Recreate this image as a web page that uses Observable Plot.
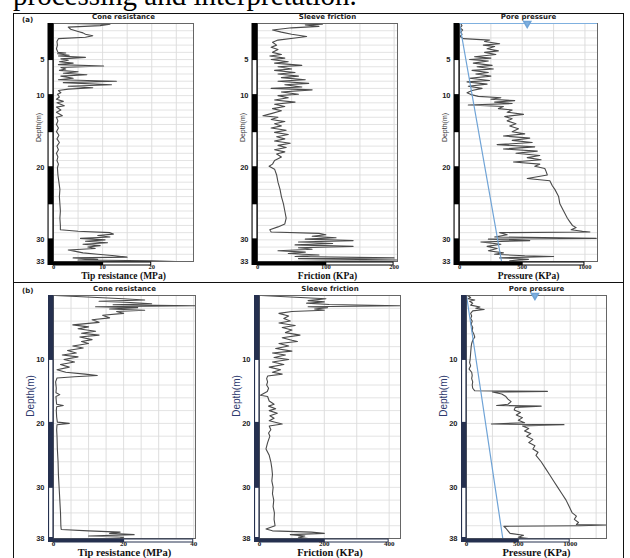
<!DOCTYPE html>
<html><head><meta charset="utf-8">
<script src="https://cdn.jsdelivr.net/npm/d3@7"></script>
<script src="https://cdn.jsdelivr.net/npm/@observablehq/plot@0.6"></script>
<style>
html,body{margin:0;padding:0;background:#fff}
body{width:630px;height:558px;overflow:hidden;position:relative}
#caption{position:absolute;left:13px;top:-19px;font:29px/29px "Liberation Serif",serif;color:#000;white-space:nowrap}
.box{position:absolute;border:1.5px solid #111;box-sizing:border-box}
.tag{position:absolute;font:bold 7px "DejaVu Sans",sans-serif;color:#222}
.panel{position:absolute}
g[aria-label="ptitle"] text{letter-spacing:1.1px}
g[aria-label="xlabelA"] text{letter-spacing:0.6px}
g[aria-label="xlabelB"] text{letter-spacing:1px}
</style></head><body>
<div id="caption">processing and interpretation.</div>
<div class="box" style="left:13px;top:13px;width:611px;height:270px"></div>
<div class="box" style="left:13px;top:282px;width:611px;height:290px"></div>
<div class="tag" style="left:22px;top:16px">(a)</div>
<div class="tag" style="left:22px;top:287px">(b)</div>
<div id="charts"></div>
<script>
// ---------- labels / ticks ----------
const titles = ["Cone resistance", "Sleeve friction", "Pore pressure"];
const xLabels = ["Tip resistance (MPa)", "Friction (KPa)", "Pressure (KPa)"];
const depthLabel = "Depth(m)";
const depthMaxA = 33, depthMaxB = 38;
const yTicksA = [5, 10, 20, 30, 33];
const yTicksB = [10, 20, 30, 38];
const xTicksA = [[0, 10, 20], [0, 100, 200], [0, 500, 1000]];
const xTicksB = [[0, 20, 40], [0, 200, 400], [0, 500, 1000]];
const xDomainA = [[0, 28.5], [0, 205], [0, 1100]];
const xDomainB = [[0, 40.5], [0, 435], [0, 1350]];
// depth strip blocks [top, bottom, dark?]
const stripA = [[0,5,1],[5,10,0],[10,15,1],[15,20,0],[20,25,1],[25,30,0],[30,33,1]];
const stripB = [[0,10,1],[10,20,0],[20,30,1],[30,38,0]];
// bottom scale bar blocks [from, to, dark?]
const barA = [[[0,10,1],[10,20,0]], [[0,100,1],[100,200,0]], [[0,500,1],[500,1000,0]]];
const barB = [[[0,20,1],[20,40,0]], [[0,200,1],[200,400,0]], [[0,500,1],[500,1000,0]]];
// hydrostatic line [depth, kPa] and water-table marker
const hydroA = [[0,0],[33,335]];
const hydroB = [[0,0],[38,350]];
const waterMarkA = [[0,540]];
const waterMarkB = [[0,660]];

// ---------- series [depth (m), value] ----------
const coneA = [[0,2.5],[0.1,11.5],[0.3,9.5],[0.5,3],[0.8,3.5],[1.1,5],[1.3,6],[1.5,6.5],[1.7,8],[1.9,6.5],[2.1,1],[2.5,0.7],[3,0.8],[3.5,0.6],[4,0.9],[4.1,2.5],[4.2,0.8],[4.4,3.2],[4.5,1],[4.7,6.5],[4.9,1.5],[5.1,3],[5.3,1.2],[5.5,4],[5.7,1],[5.9,10.2],[6.1,1.5],[6.3,2.5],[6.5,1.2],[6.7,5],[6.9,2],[7.1,6.8],[7.3,1.5],[7.6,4],[7.8,1],[8,12.8],[8.2,2],[8.5,11.8],[8.7,3],[8.9,8],[9.1,3],[9.3,1],[9.6,1.5],[9.8,0.8],[10.2,1.2],[10.5,0.6],[10.8,2],[11,0.7],[11.4,2.2],[11.6,0.6],[12,1.5],[12.3,0.6],[12.8,1.8],[13,0.6],[13.5,0.9],[14,0.6],[14.5,1],[15,0.6],[15.5,1.1],[16,0.7],[16.5,1.2],[17,0.7],[17.5,1],[18,0.6],[18.5,0.9],[19,0.7],[19.5,1],[20,0.8],[21,0.9],[22,1.1],[23,1.3],[24,1.2],[25,1.3],[26,1.4],[27,1.3],[28,1.4],[28.6,1.4],[28.8,5],[29,11.5],[29.2,12.2],[29.4,9],[29.6,11.5],[29.8,5.5],[30,10.5],[30.2,6.5],[30.4,11],[30.6,6],[30.8,9.5],[31,7],[31.2,8.5],[31.4,3],[31.6,4.5],[31.8,6],[32,9],[32.2,12.5],[32.4,15],[32.5,4],[32.7,9],[32.8,5],[32.9,20],[33,25]];
const frictionA = [[0,60],[0.1,95],[0.2,70],[0.4,90],[0.6,50],[0.9,22],[1.2,35],[1.5,50],[1.8,72],[2,55],[2.3,30],[2.6,22],[3,28],[3.3,20],[3.6,30],[4,22],[4.3,35],[4.5,18],[4.8,40],[5,20],[5.3,45],[5.5,25],[5.8,65],[6,30],[6.3,50],[6.5,25],[6.8,55],[7,30],[7.3,60],[7.5,35],[7.8,70],[8,30],[8.3,75],[8.5,40],[8.8,65],[9,20],[9.2,80],[9.5,35],[9.8,60],[10,30],[10.3,45],[10.6,25],[10.9,55],[11.2,25],[11.5,40],[11.8,22],[12.1,35],[12.5,20],[12.8,8],[13,30],[13.3,20],[13.6,40],[13.9,25],[14.2,35],[14.5,20],[14.8,42],[15.1,25],[15.4,45],[15.7,28],[16,40],[16.3,25],[16.6,48],[16.9,30],[17.2,42],[17.5,25],[17.8,40],[18.1,28],[18.5,35],[19,25],[19.5,22],[19.8,17],[20.2,25],[21,28],[22,30],[23,33],[24,35],[25,38],[26,40],[27,42],[27.8,40],[28.2,30],[28.6,18],[28.9,20],[29.1,90],[29.3,100],[29.5,80],[29.7,115],[29.9,70],[30.1,140],[30.3,60],[30.5,110],[30.7,55],[30.9,140],[31.1,60],[31.3,80],[31.5,30],[31.7,70],[31.9,45],[32.1,90],[32.3,55],[32.5,200],[32.6,60],[32.8,205],[33,50]];
const poreA = [[0,10],[0.3,20],[0.6,5],[0.9,25],[1.2,10],[1.5,20],[1.8,5],[2.1,30],[2.3,240],[2.5,200],[2.8,320],[3,190],[3.2,280],[3.5,220],[3.8,310],[4,200],[4.3,290],[4.6,120],[4.8,250],[5,80],[5.2,230],[5.5,110],[5.8,260],[6,140],[6.3,270],[6.5,100],[6.8,230],[7,130],[7.3,250],[7.6,80],[7.9,240],[8.1,60],[8.4,220],[8.7,70],[9,180],[9.3,100],[9.6,60],[9.9,100],[10.1,150],[10.3,330],[10.5,250],[10.7,440],[10.9,280],[11.1,420],[11.3,70],[11.5,350],[11.8,310],[12,420],[12.3,380],[12.6,510],[12.9,360],[13.2,420],[13.5,380],[13.9,450],[14.2,400],[14.6,470],[15,420],[15.3,520],[15.6,350],[15.9,560],[16.2,420],[16.5,580],[16.8,300],[17.1,600],[17.4,350],[17.7,620],[18,450],[18.3,640],[18.6,540],[18.9,650],[19.2,430],[19.5,640],[19.8,600],[20.1,680],[20.5,690],[21,700],[21.5,540],[21.8,720],[22.5,740],[23,760],[24,790],[25,800],[26,830],[27,860],[27.5,880],[28,900],[28.3,930],[28.6,890],[28.8,980],[28.9,1040],[29,320],[29.3,380],[29.6,280],[29.8,1090],[29.9,230],[30.1,560],[30.3,170],[30.6,330],[30.9,220],[31.2,300],[31.5,230],[31.8,350],[32,280],[32.2,520],[32.3,750],[32.5,320],[32.7,550],[32.9,400],[33,450]];
const coneB = [[0,0.5],[0.2,8],[0.5,20],[0.7,26],[0.9,13],[1.1,22],[1.3,28],[1.45,17],[1.6,40.5],[1.75,12],[1.9,24],[2.1,16],[2.3,26],[2.5,18],[2.8,20],[3.1,14],[3.5,16],[3.8,11],[4.2,13],[4.6,5.5],[4.9,10],[5.2,7],[5.6,12],[5.9,8],[6.2,13],[6.5,7.5],[6.9,11],[7.2,8],[7.5,10],[7.9,5.5],[8.2,8.5],[8.6,4],[9,6.5],[9.3,2.5],[9.6,7],[10,3],[10.4,6],[10.8,2],[11.2,4.5],[11.6,1],[12,3.5],[12.3,9],[12.5,12.5],[12.7,6],[12.9,1],[13.5,0.6],[14.5,0.8],[15.2,0.7],[15.5,1.8],[15.8,0.7],[16.5,0.8],[17,0.9],[17.2,2.8],[17.4,0.9],[18,0.8],[19,0.9],[19.8,1.1],[20,4.5],[20.2,1],[21,0.9],[22,1],[24,1.1],[26,1.3],[28,1.4],[30,1.6],[32,1.8],[34,2],[36,2.1],[36.6,2.2],[36.8,10],[37,19],[37.2,16],[37.4,23],[37.6,10],[37.8,20],[38,19]];
const frictionB = [[0,5],[0.2,80],[0.5,205],[0.8,150],[1,200],[1.2,145],[1.4,215],[1.6,433],[1.75,150],[1.9,210],[2.1,170],[2.3,200],[2.5,100],[2.8,60],[3.2,90],[3.6,75],[4,95],[4.3,60],[4.7,110],[5,70],[5.4,100],[5.8,80],[6.2,125],[6.6,70],[7,100],[7.2,117],[7.5,60],[7.9,90],[8.3,50],[8.7,100],[9,40],[9.3,80],[9.7,45],[10,90],[10.4,40],[10.8,75],[11.2,30],[11.6,65],[12,40],[12.3,70],[12.6,25],[13,22],[13.5,25],[14,22],[14.5,28],[15,24],[15.6,3],[15.8,25],[16.5,30],[17,45],[17.3,28],[17.7,50],[18,30],[18.4,55],[18.8,32],[19.2,45],[19.6,30],[20.1,70],[20.4,30],[21,35],[21.5,28],[22,32],[23,25],[24,20],[25,30],[26,35],[27,38],[28,40],[29,38],[30,42],[31,40],[32,44],[33,42],[34,46],[35,45],[36,48],[36.5,20],[36.8,40],[37,160],[37.2,200],[37.4,95],[37.6,140],[37.8,120],[38,150]];
const poreB = [[0,10],[0.3,40],[0.5,15],[0.7,80],[0.9,30],[1.2,60],[1.5,40],[1.8,130],[2,90],[2.2,170],[2.4,60],[2.8,40],[3.2,50],[3.6,40],[4,55],[4.5,45],[5,60],[5.5,55],[6,70],[6.5,80],[7,60],[7.5,50],[8,45],[9,40],[10,35],[10.5,30],[11,40],[11.5,25],[12,50],[12.5,55],[13,50],[13.5,60],[14,55],[14.5,60],[14.9,80],[15,780],[15.1,250],[15.4,340],[15.8,380],[16.2,400],[16.6,430],[17,400],[17.2,290],[17.3,720],[17.5,470],[17.9,460],[18.3,520],[18.7,480],[19.1,540],[19.5,500],[19.9,560],[20.1,240],[20.2,940],[20.4,540],[20.8,600],[21.2,560],[21.6,620],[22,580],[22.5,640],[23,600],[23.5,660],[24,640],[24.5,690],[25,670],[26,720],[27,760],[28,800],[29,840],[30,880],[31,920],[32,960],[33,990],[34,1020],[34.5,1060],[35,1040],[35.5,1080],[35.8,1060],[35.9,1350],[36,1100],[36.1,360],[36.4,380],[36.8,400],[37.2,420],[37.5,550],[37.8,500],[38,600]];

// ---------- panel builder ----------
function panel(o) {
  const rows = o.series.map(([d, v]) => ({d, v}));
  const x0 = o.xDomain[0];
  const lightStrip = o.strip.filter(b => !b[2]);
  const lightBar = o.bar.filter(b => !b[2]);
  const barEnd = o.bar[o.bar.length - 1][1];
  const marks = [
    Plot.gridX({ticks: d3.range(0, o.xDomain[1] + 1e-6, o.gridX), stroke: "#d6d6d6", strokeOpacity: 1, strokeWidth: 0.8}),
    Plot.gridY({ticks: d3.range(0, o.depthMax + 1e-6, o.gridY), stroke: "#dcdcdc", strokeOpacity: 1, strokeWidth: 0.8}),
    Plot.line(rows, {x: "v", y: "d", stroke: "#4a4a4a", strokeWidth: 1.1})
  ];
  if (o.hydro) {
    marks.push(Plot.line(o.hydro.map(([d, v]) => ({d, v})), {x: "v", y: "d", stroke: "#6fa3d6", strokeWidth: 1.2}));
  }
  marks.push(Plot.frame({stroke: "#666", strokeWidth: 1}));
  if (o.topLine) marks.push(Plot.ruleY([0], {stroke: "#7fb0df", strokeWidth: 1.2}));
  if (o.mark) {
    marks.push(Plot.dot(o.mark.map(([d, v]) => ({d, v})), {x: "v", y: "d", symbol: "triangle", rotate: 180, r: 2.6, fill: "#7fb0df", stroke: "#6fa3d6", dy: 0}));
  }
  // depth strip
  marks.push(Plot.ruleX([x0], {y1: 0, y2: o.depthMax, stroke: o.dark, strokeWidth: o.stripW, dx: -o.stripW / 2, insetBottom: -4}));
  marks.push(Plot.ruleX(lightStrip, {x: () => x0, y1: b => b[0], y2: b => b[1], stroke: "#fff", strokeWidth: o.stripW - 2.2, dx: -o.stripW / 2, insetTop: 1, insetBottom: 1}));
  // bottom scale bar
  marks.push(Plot.ruleY([o.depthMax], {x1: x0, x2: barEnd, stroke: o.dark, strokeWidth: 4, dy: 2}));
  marks.push(Plot.ruleY(lightBar, {y: () => o.depthMax, x1: b => b[0], x2: b => b[1], stroke: "#fff", strokeWidth: 2, dy: 2, insetLeft: 1, insetRight: 1}));
  // axes
  marks.push(Plot.axisY(o.yTicks, {anchor: "left", tickSize: 0, tickPadding: o.yPad, fontSize: o.yFont, fontWeight: "bold", fontFamily: "Liberation Sans", fill: "#222", label: null, tickFormat: d => String(d)}));
  marks.push(Plot.axisX(o.xTicks, {anchor: "bottom", tickSize: 0, tickPadding: o.xPad, fontSize: o.xFont, fontWeight: "bold", fontFamily: "Liberation Serif", fill: "#222", label: null, tickFormat: d => String(d)}));
  // titles and labels
  marks.push(Plot.text([o.title], {text: d => d, frameAnchor: "top", textAnchor: "middle", lineAnchor: "middle", dy: -7, fontFamily: "DejaVu Sans", fontWeight: "bold", fontSize: 7, fill: "#222", ariaLabel: "ptitle"}));
  marks.push(Plot.text([o.xLabel], {text: d => d, frameAnchor: "bottom", textAnchor: "middle", lineAnchor: "middle", dy: o.xLabelDy, fontFamily: "Liberation Serif", fontWeight: "bold", fontSize: o.xLabelSize, fill: "#111", ariaLabel: o.xLabelClass}));
  marks.push(Plot.text([depthLabel], {text: d => d, frameAnchor: "left", textAnchor: "middle", lineAnchor: "middle", rotate: -90, dx: o.dlDx, dy: o.dlDy, fontFamily: "Liberation Sans Narrow, Liberation Sans", fontSize: o.dlSize, fill: o.dlColor}));

  const svg = Plot.plot({
    width: o.w, height: o.h,
    marginLeft: o.fl - o.left, marginRight: o.left + o.w - o.fr,
    marginTop: o.ft - o.top, marginBottom: o.top + o.h - o.fb,
    x: {type: "linear", domain: o.xDomain},
    y: {type: "linear", domain: [0, o.depthMax], reverse: true},
    style: {background: "transparent", overflow: "visible"},
    marks
  });
  const div = document.createElement("div");
  div.className = "panel";
  div.style.left = o.left + "px";
  div.style.top = o.top + "px";
  div.appendChild(svg);
  document.getElementById("charts").appendChild(div);
}

const colsA = [{left: 14, w: 196, fl: 53, fr: 193}, {left: 210, w: 210, fl: 257, fr: 397}, {left: 420, w: 202, fl: 459, fr: 597}];
const colsB = [{left: 14, w: 196, fl: 53, fr: 195}, {left: 210, w: 210, fl: 259, fr: 400}, {left: 420, w: 202, fl: 466, fr: 606}];
const seriesA = [coneA, frictionA, poreA];
const seriesB = [coneB, frictionB, poreB];
const gridXA = [5, 50, 250], gridXB = [5, 100, 250];

for (let i = 0; i < 3; i++) {
  panel({...colsA[i], top: 15, h: 266, ft: 23, fb: 261, depthMax: depthMaxA,
    xDomain: xDomainA[i], xTicks: xTicksA[i], yTicks: yTicksA, gridX: gridXA[i], gridY: 1,
    series: seriesA[i], strip: stripA, bar: barA[i], dark: "#000", stripW: 6,
    title: titles[i], xLabel: xLabels[i], xLabelDy: 14.5, xLabelSize: 9.5, xLabelClass: "xlabelA",
    xFont: 6.5, xPad: 2.5, yFont: 7.5, yPad: 9,
    dlDx: -15, dlDy: -15, dlSize: 7, dlColor: "#333",
    hydro: i === 2 ? hydroA : null, mark: i === 2 ? waterMarkA : null, topLine: i === 2});
  panel({...colsB[i], top: 284, h: 274, ft: 295, fb: 538, depthMax: depthMaxB,
    xDomain: xDomainB[i], xTicks: xTicksB[i], yTicks: yTicksB, gridX: gridXB[i], gridY: 2,
    series: seriesB[i], strip: stripB, bar: barB[i], dark: "#25304f", stripW: 5.5,
    title: titles[i], xLabel: xLabels[i], xLabelDy: 14.5, xLabelSize: 10.5, xLabelClass: "xlabelB",
    xFont: 7, xPad: 2.5, yFont: 7.5, yPad: 9,
    dlDx: -23, dlDy: -21, dlSize: 10, dlColor: "#2e3a6e",
    hydro: i === 2 ? hydroB : null, mark: i === 2 ? waterMarkB : null, topLine: false});
}
</script>
</body></html>
